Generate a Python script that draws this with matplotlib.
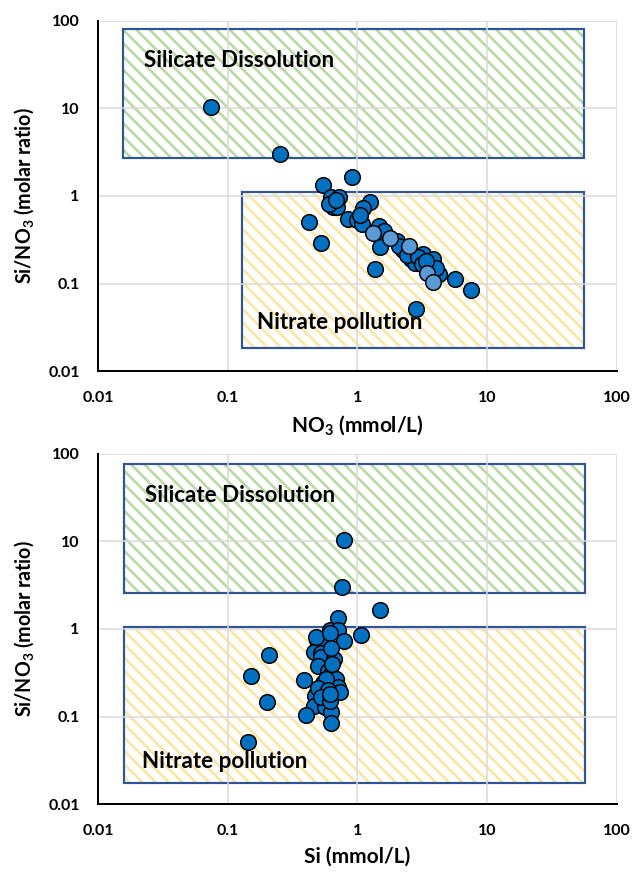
import matplotlib
matplotlib.use("Agg")
import matplotlib.pyplot as plt
from matplotlib.patches import Rectangle

# fonts
plt.rcParams['font.family'] = ['Lato', 'DejaVu Sans']
plt.rcParams['mathtext.fontset'] = 'custom'
plt.rcParams['mathtext.rm'] = 'Lato'
plt.rcParams['mathtext.bf'] = 'Lato:bold'
plt.rcParams['hatch.linewidth'] = 1.6

# data
no3 = [0.075, 0.254, 0.91, 0.54, 0.63, 0.72, 0.65, 0.70, 1.25, 1.10,
       0.42, 0.52, 0.84, 0.99, 1.09, 1.47, 1.32, 1.49, 1.36, 1.79,
       2.02, 2.25, 2.51, 2.60, 2.79, 3.22, 3.85, 3.46, 3.85, 4.29,
       5.62, 7.50, 2.83, 0.60, 0.68, 1.05, 1.60, 2.10, 2.40, 2.95,
       3.15, 4.05, 3.40]
si = [0.79, 0.76, 1.50, 0.71, 0.61, 0.71, 0.49, 0.52, 1.06, 0.79,
      0.21, 0.151, 0.46, 0.52, 0.52, 0.66, 0.50, 0.39, 0.20, 0.59,
      0.63, 0.54, 0.68, 0.49, 0.47, 0.71, 0.73, 0.46, 0.40, 0.56,
      0.63, 0.63, 0.144, 0.48, 0.61, 0.63, 0.64, 0.57, 0.50, 0.59,
      0.52, 0.61, 0.61]
ratio = [10.5, 2.99, 1.65, 1.32, 0.97, 0.98, 0.75, 0.74, 0.85, 0.72,
         0.50, 0.29, 0.55, 0.53, 0.48, 0.45, 0.375, 0.26, 0.148, 0.33,
         0.31, 0.24, 0.27, 0.19, 0.17, 0.22, 0.19, 0.133, 0.105, 0.13,
         0.112, 0.084, 0.051, 0.80, 0.90, 0.60, 0.40, 0.27, 0.21, 0.20,
         0.165, 0.15, 0.18]
# lighter-blue points in the NO3 panel
light = [16, 19, 22, 27, 28]

ticks = [0.01, 0.1, 1, 10, 100]
tick_labels = ['0.01', '0.1', '1', '10', '100']

# zone boxes (x0, x1, y0, y1)
top_boxes = {'silicate': (0.0156, 56, 2.7, 81), 'nitrate': (0.129, 56, 0.0183, 1.11)}
bot_boxes = {'silicate': (0.016, 57, 2.58, 77), 'nitrate': (0.016, 57, 0.0174, 1.05)}

DARK = '#0070c0'
LIGHT = '#5b9bd5'
GREEN = '#b9d9a5'
YELLOW = '#fce6a6'
BORDER = '#2f5597'


def add_box(ax, box, color):
    x0, x1, y0, y1 = box
    ax.add_patch(Rectangle((x0, y0), x1 - x0, y1 - y0, facecolor='white',
                           edgecolor=color, hatch='\\\\\\', linewidth=0, zorder=0.2))
    ax.add_patch(Rectangle((x0, y0), x1 - x0, y1 - y0, fill=False,
                           edgecolor=BORDER, linewidth=1.3, zorder=0.3))


def style_axes(ax, xlabel):
    ax.set_xscale('log')
    ax.set_yscale('log')
    ax.set_xlim(0.01, 100)
    ax.set_ylim(0.01, 100)
    ax.set_xticks(ticks)
    ax.set_xticklabels(tick_labels)
    ax.set_yticks(ticks)
    ax.set_yticklabels(tick_labels)
    ax.minorticks_off()
    ax.set_axisbelow(True)
    ax.grid(True, color='#d9d9d9', linewidth=0.9)
    for s in ['top', 'right']:
        ax.spines[s].set_visible(False)
    for s in ['left', 'bottom']:
        ax.spines[s].set_color('black')
        ax.spines[s].set_linewidth(1.2)
    ax.tick_params(axis='x', length=0, pad=12, labelsize=9.6)
    ax.tick_params(axis='y', length=0, pad=11, labelsize=9.6)
    for lab in ax.get_xticklabels() + ax.get_yticklabels():
        lab.set_fontweight('bold')
    ax.set_xlabel(xlabel, fontsize=12.5, fontweight='bold', labelpad=5)
    ax.set_ylabel(r'Si/NO$_\mathbf{3}$ (molar ratio)', fontsize=11.8,
                  fontweight='bold', labelpad=7)


fig = plt.figure(figsize=(632 / 120, 873 / 120), dpi=120)
ax1 = fig.add_axes([0.155, 0.575, 0.821, 0.401])
ax2 = fig.add_axes([0.155, 0.079, 0.821, 0.401])

# top: NO3 vs ratio
add_box(ax1, top_boxes['silicate'], GREEN)
add_box(ax1, top_boxes['nitrate'], YELLOW)
dx = [x for i, x in enumerate(no3) if i not in light]
dy = [y for i, y in enumerate(ratio) if i not in light]
lx = [no3[i] for i in light]
ly = [ratio[i] for i in light]
ax1.scatter(dx, dy, s=88, color=DARK, edgecolor='black', linewidth=0.9, zorder=3)
ax1.scatter(lx, ly, s=88, color=LIGHT, edgecolor='black', linewidth=0.9, zorder=3)
ax1.text(0.0226, 30, 'Silicate Dissolution', fontsize=13.4, fontweight='bold',
         va='baseline', ha='left', zorder=4)
ax1.text(0.1675, 0.030, 'Nitrate pollution', fontsize=13.4, fontweight='bold',
         va='baseline', ha='left', zorder=4)
style_axes(ax1, r'NO$_\mathbf{3}$ (mmol/L)')

# bottom: Si vs ratio
add_box(ax2, bot_boxes['silicate'], GREEN)
add_box(ax2, bot_boxes['nitrate'], YELLOW)
ax2.scatter(si, ratio, s=88, color=DARK, edgecolor='black', linewidth=0.9, zorder=3)
ax2.text(0.0231, 28.3, 'Silicate Dissolution', fontsize=13.4, fontweight='bold',
         va='baseline', ha='left', zorder=4)
ax2.text(0.022, 0.026, 'Nitrate pollution', fontsize=13.4, fontweight='bold',
         va='baseline', ha='left', zorder=4)
style_axes(ax2, 'Si (mmol/L)')

fig.savefig('out.png', dpi=120)
